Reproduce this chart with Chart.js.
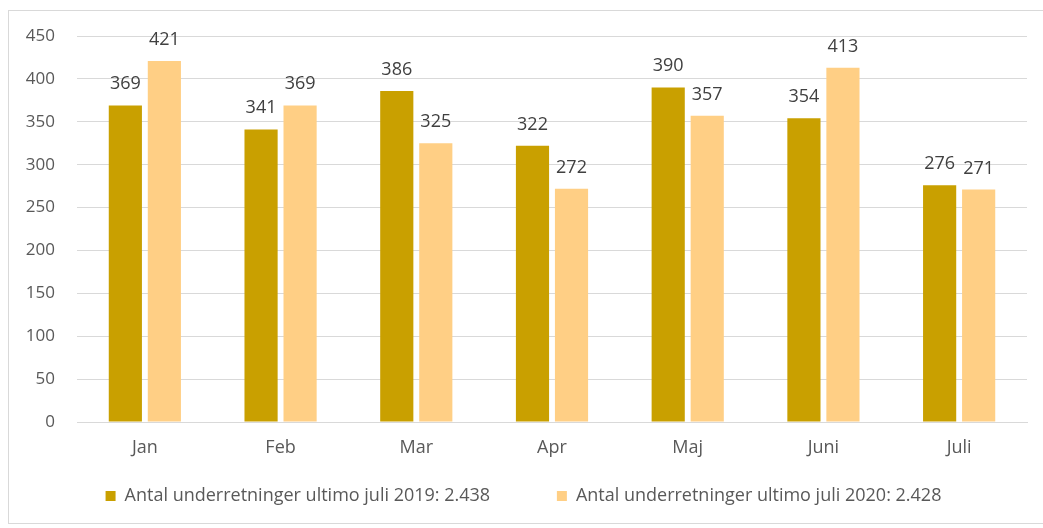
<!DOCTYPE html>
<html>
<head>
<meta charset="utf-8">
<script src="https://cdn.jsdelivr.net/npm/chart.js@4/dist/chart.umd.min.js"></script>
<style>
  html, body { margin: 0; padding: 0; background: #fff; overflow: hidden; width: 1043px; height: 528px; }
  #frame { position: absolute; left: 8px; top: 10px; width: 1035px; height: 514px;
           border-left: 1px solid #d9d9d9; border-top: 1px solid #d9d9d9; border-bottom: 1px solid #d9d9d9; box-sizing: border-box; }
  #wrap { position: absolute; left: 0; top: 0; width: 1043px; height: 528px; }
</style>
</head>
<body>
<div id="frame"></div>
<div id="wrap"><canvas id="c" width="1043" height="528"></canvas></div>
<script>
const categories = ['Jan', 'Feb', 'Mar', 'Apr', 'Maj', 'Juni', 'Juli'];
const series2019 = [369, 341, 386, 322, 390, 354, 276];
const series2020 = [421, 369, 325, 272, 357, 413, 271];
const label2019 = 'Antal underretninger ultimo juli 2019: 2.438';
const label2020 = 'Antal underretninger ultimo juli 2020: 2.428';
const yTicks = [0, 50, 100, 150, 200, 250, 300, 350, 400, 450];

const FONT = "'Open Sans', 'Noto Sans', sans-serif";

const valueLabels = {
  id: 'valueLabels',
  afterDatasetsDraw(chart) {
    const ctx = chart.ctx;
    ctx.save();
    ctx.font = '18px ' + FONT;
    ctx.fillStyle = '#404040';
    ctx.textAlign = 'center';
    ctx.textBaseline = 'alphabetic';
    chart.data.datasets.forEach((ds, di) => {
      const meta = chart.getDatasetMeta(di);
      meta.data.forEach((bar, i) => {
        ctx.fillText(String(ds.data[i]), bar.x, bar.y - 16);
      });
    });
    ctx.restore();
  }
};

new Chart(document.getElementById('c'), {
  type: 'bar',
  data: {
    labels: categories,
    datasets: [
      { label: label2019, data: series2019, backgroundColor: '#C9A000',
        categoryPercentage: 0.575, barPercentage: 0.85 },
      { label: label2020, data: series2020, backgroundColor: '#FFCF85',
        categoryPercentage: 0.575, barPercentage: 0.85 }
    ]
  },
  options: {
    responsive: false,
    animation: false,
    devicePixelRatio: 1,
    layout: { padding: { top: 36, right: 16, bottom: 13, left: 20 } },
    plugins: {
      tooltip: { enabled: false },
      legend: {
        position: 'bottom',
        labels: {
          boxWidth: 10, boxHeight: 10, padding: 20,
          color: '#595959',
          font: { family: FONT, size: 18 },
          generateLabels(chart) {
            const items = Chart.defaults.plugins.legend.labels.generateLabels(chart);
            items.forEach((it, i) => {
              it.lineWidth = 0;
              if (i === 0) it.text = it.text + '          ';
            });
            return items;
          }
        }
      }
    },
    scales: {
      x: {
        grid: { display: false, drawTicks: false },
        border: { display: true, color: '#d9d9d9', width: 1 },
        ticks: { color: '#595959', font: { family: FONT, size: 18 }, padding: 15 },
        afterFit(scale) { scale.height = 45; }
      },
      y: {
        min: 0, max: 450,
        afterBuildTicks(scale) { scale.ticks = yTicks.map(v => ({ value: v })); },
        grid: { color: '#d9d9d9', drawTicks: false },
        border: { display: false },
        ticks: { color: '#595959', font: { family: FONT, size: 17 }, padding: 22 },
        afterFit(scale) { scale.width = 57; }
      }
    }
  },
  plugins: [valueLabels]
});
</script>
</body>
</html>
